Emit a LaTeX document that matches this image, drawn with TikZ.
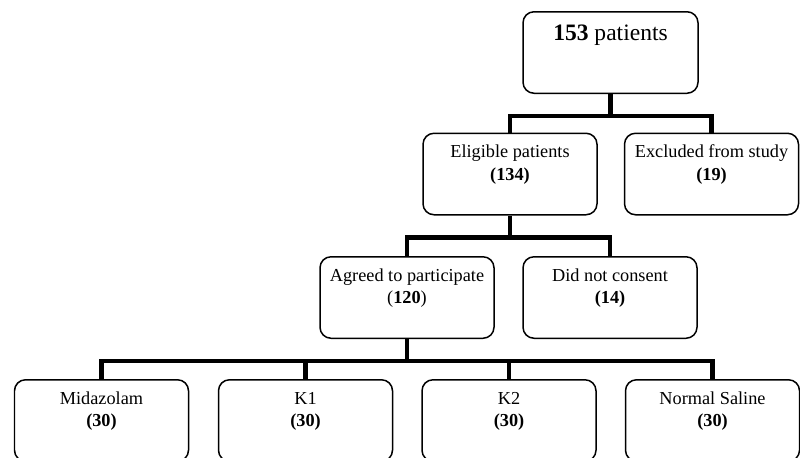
\documentclass[tikz,border=0pt]{standalone}
\usepackage{fontspec}
\setmainfont{Liberation Serif}
\usepackage{tikz}
\usetikzlibrary{positioning,calc}

\begin{document}
\begin{tikzpicture}[stage/.style={draw=black, line width=0.85pt, rounded corners=0.22cm,
    minimum width=3.48cm, minimum height=1.63cm, align=center, inner sep=0pt,
    font=\fontsize{10.4}{12.8}\selectfont},
  link/.style={draw=black, line width=2.3pt}]
  \clip (0,0) rectangle (16,-9.14);
  \node[stage, minimum width=3.5cm, font=\fontsize{13.4}{16}\selectfont] (total) at (12.21,-1.05)
    {\textbf{153} patients\\[6pt]\mbox{}};
  \node[stage] (elig) at (10.2,-3.48) {Eligible patients\\\textbf{(134)}\\\mbox{}};
  \node[stage] (excl) at (14.23,-3.48) {Excluded from study\\\textbf{(19)}\\\mbox{}};
  \node[stage] (agree) at (8.14,-5.95) {Agreed to participate\\(\textbf{120})\\\mbox{}};
  \node[stage] (nocons) at (12.2,-5.95) {Did not consent\\\textbf{(14)}\\\mbox{}};
  \node[stage] (mida) at (2.03,-8.41) {Midazolam\\\textbf{(30)}\\\mbox{}};
  \node[stage] (kone) at (6.11,-8.41) {K1\\\textbf{(30)}\\\mbox{}};
  \node[stage] (ktwo) at (10.18,-8.41) {K2\\\textbf{(30)}\\\mbox{}};
  \node[stage] (saline) at (14.25,-8.41) {Normal Saline\\\textbf{(30)}\\\mbox{}};
  % first split
  \draw[link] (total.south) -- ++(0,-0.44) coordinate (j1);
  \draw[link] (elig.north) |- (j1) -| (excl.north);
  % second split
  \draw[link] (elig.south) -- ++(0,-0.44) coordinate (j2);
  \draw[link] (agree.north) |- (j2) -| (nocons.north);
  % four groups
  \draw[link] (agree.south) -- ++(0,-0.435) coordinate (j3);
  \draw[link] (mida.north) |- (j3) -| (saline.north);
  \draw[link] (kone.north) -- (kone.north |- j3);
  \draw[link] (ktwo.north) -- (ktwo.north |- j3);
\end{tikzpicture}
\end{document}
